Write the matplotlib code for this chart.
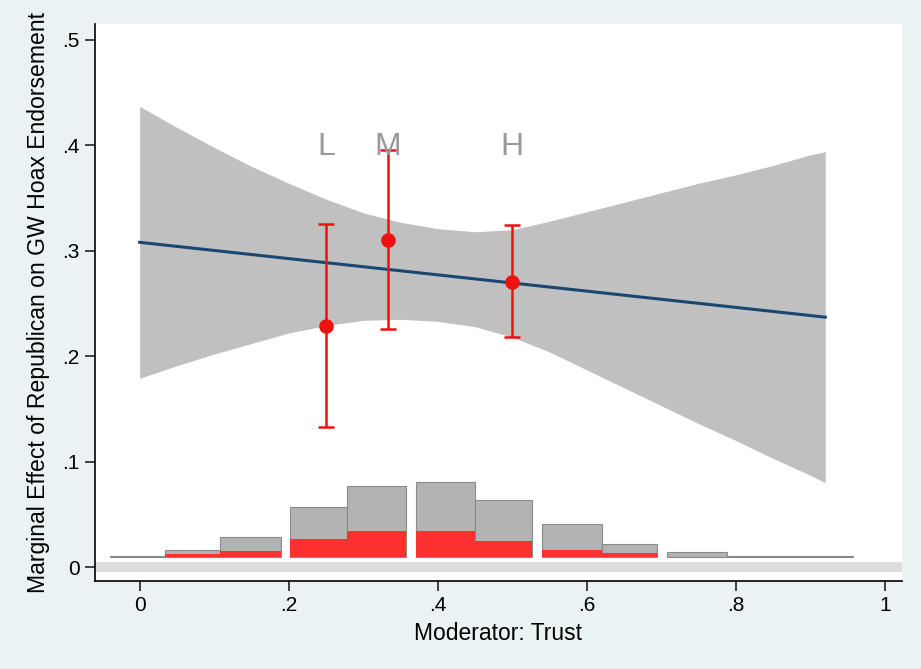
import matplotlib.pyplot as plt
import numpy as np

# --------------------------------------------------------------------------
# Data
# confidence band of marginal effect
band_x = [0.00, 0.05, 0.10, 0.15, 0.20, 0.25, 0.30, 0.35, 0.40, 0.45,
          0.50, 0.55, 0.60, 0.65, 0.70, 0.75, 0.80, 0.85, 0.90, 0.92]
band_hi = [0.437, 0.417, 0.398, 0.380, 0.364, 0.349, 0.336, 0.327, 0.321, 0.318,
           0.320, 0.328, 0.337, 0.346, 0.355, 0.364, 0.372, 0.381, 0.391, 0.394]
band_lo = [0.179, 0.191, 0.202, 0.212, 0.222, 0.229, 0.234, 0.235, 0.233, 0.228,
           0.218, 0.204, 0.187, 0.170, 0.153, 0.136, 0.120, 0.103, 0.087, 0.080]

# fitted marginal effect line
line_x = [0.00, 0.92]
line_y = [0.308, 0.237]

# binned estimates (Low / Medium / High)
pt_labels = ['L', 'M', 'H']
pt_x = [0.25, 0.333, 0.50]
pt_y = [0.229, 0.310, 0.270]
pt_lo = [0.133, 0.226, 0.218]
pt_hi = [0.325, 0.396, 0.324]

# histogram of moderator (bin edges, tops of gray / red bars)
hist_left = [-0.040, 0.034, 0.108, 0.202, 0.278, 0.371, 0.450, 0.540, 0.621, 0.707, 0.788]
hist_right = [0.034, 0.108, 0.189, 0.278, 0.358, 0.450, 0.527, 0.621, 0.694, 0.788, 0.957]
hist_all = [0.0105, 0.016, 0.028, 0.057, 0.077, 0.081, 0.064, 0.041, 0.022, 0.014, 0.0105]
hist_rep = [0.0095, 0.012, 0.015, 0.027, 0.034, 0.034, 0.025, 0.016, 0.013, 0.0095, 0.0095]
HIST_BASE = 0.0095

xticks = [0, 0.2, 0.4, 0.6, 0.8, 1.0]
xticklabels = ['0', '.2', '.4', '.6', '.8', '1']
yticks = [0, 0.1, 0.2, 0.3, 0.4, 0.5]
yticklabels = ['0', '.1', '.2', '.3', '.4', '.5']

# --------------------------------------------------------------------------
plt.rcParams['font.family'] = ['Liberation Sans', 'DejaVu Sans']

BG = '#eaf2f3'
fig = plt.figure(figsize=(9.21, 6.69), dpi=100, facecolor=BG)
ax = fig.add_axes([0.1031, 0.1315, 0.8763, 0.832])
ax.set_facecolor('white')

# band + line
ax.fill_between(band_x, band_lo, band_hi, color='#c0c0c0', lw=0, zorder=1)
ax.plot(line_x, line_y, color='#1a476f', lw=2.2, zorder=3)

# reference band at zero
ax.axhline(0, color='#dcdcdc', lw=7, zorder=0.5)

# histogram
widths = np.array(hist_right) - np.array(hist_left)
ax.bar(hist_left, np.array(hist_all) - HIST_BASE, width=widths, bottom=HIST_BASE,
       align='edge', color='#b3b3b3', edgecolor='#8a8a8a', lw=0.8, zorder=2)
ax.bar(hist_left, np.array(hist_rep) - HIST_BASE, width=widths, bottom=HIST_BASE,
       align='edge', color='#ff3030', lw=0, zorder=2.1)

# point estimates
yerr = [np.array(pt_y) - np.array(pt_lo), np.array(pt_hi) - np.array(pt_y)]
ax.errorbar(pt_x, pt_y, yerr=yerr, fmt='o', color='#ee1111', ms=9.5,
            elinewidth=1.8, capsize=5.5, capthick=1.8, zorder=4)
for lab, x in zip(pt_labels, pt_x):
    ax.text(x, 0.398, lab, color='#999999', fontsize=23, ha='center', va='center', zorder=5)

ax.set_xlim(-0.060, 1.023)
ax.set_ylim(-0.0133, 0.5147)
ax.set_xticks(xticks)
ax.set_xticklabels(xticklabels)
ax.set_yticks(yticks)
ax.set_yticklabels(yticklabels)
ax.tick_params(labelsize=15, length=7, width=1.2, color='#222222', pad=4)

for side in ['top', 'right']:
    ax.spines[side].set_visible(False)
for side in ['left', 'bottom']:
    ax.spines[side].set_linewidth(1.2)

ax.set_xlabel('Moderator: Trust', fontsize=16.5, labelpad=5)
ax.set_ylabel('Marginal Effect of Republican on GW Hoax Endorsement', fontsize=16.6, labelpad=9)

fig.savefig('out.png', dpi=100, facecolor=BG)
